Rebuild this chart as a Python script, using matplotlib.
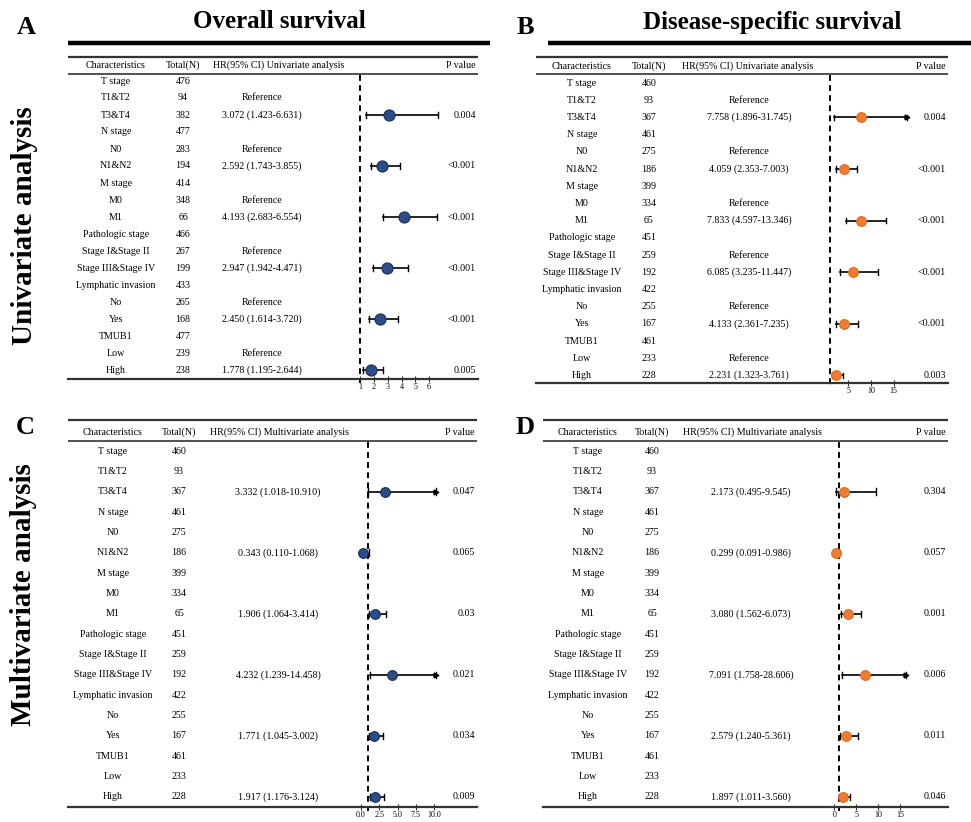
import matplotlib
matplotlib.use("Agg")
import matplotlib.pyplot as plt
from matplotlib.lines import Line2D

plt.rcParams['font.family'] = ['Liberation Serif', 'DejaVu Serif']

W, H = 971, 822

# ---------------- data ----------------
characteristics = ["T stage", "T1&T2", "T3&T4", "N stage", "N0", "N1&N2",
                   "M stage", "M0", "M1", "Pathologic stage", "Stage I&Stage II",
                   "Stage III&Stage IV", "Lymphatic invasion", "No", "Yes",
                   "TMUB1", "Low", "High"]

# rows that carry an estimate, and the reference rows
est_rows = [2, 5, 8, 11, 14, 17]
ref_rows = [1, 4, 7, 10, 13, 16]

total_os_uni = [476, 94, 382, 477, 283, 194, 414, 348, 66, 466, 267, 199, 433, 265, 168, 477, 239, 238]
total_dss_uni = [460, 93, 367, 461, 275, 186, 399, 334, 65, 451, 259, 192, 422, 255, 167, 461, 233, 228]
total_os_multi = [460, 93, 367, 461, 275, 186, 399, 334, 65, 451, 259, 192, 422, 255, 167, 461, 233, 228]
total_dss_multi = [460, 93, 367, 461, 275, 186, 399, 334, 65, 451, 259, 192, 422, 255, 167, 461, 233, 228]

hr_os_uni = [3.072, 2.592, 4.193, 2.947, 2.450, 1.778]
lo_os_uni = [1.423, 1.743, 2.683, 1.942, 1.614, 1.195]
hi_os_uni = [6.631, 3.855, 6.554, 4.471, 3.720, 2.644]
p_os_uni = ["0.004", "<0.001", "<0.001", "<0.001", "<0.001", "0.005"]

hr_dss_uni = [7.758, 4.059, 7.833, 6.085, 4.133, 2.231]
lo_dss_uni = [1.896, 2.353, 4.597, 3.235, 2.361, 1.323]
hi_dss_uni = [31.745, 7.003, 13.346, 11.447, 7.235, 3.761]
p_dss_uni = ["0.004", "<0.001", "<0.001", "<0.001", "<0.001", "0.003"]

hr_os_multi = [3.332, 0.343, 1.906, 4.232, 1.771, 1.917]
lo_os_multi = [1.018, 0.110, 1.064, 1.239, 1.045, 1.176]
hi_os_multi = [10.910, 1.068, 3.414, 14.458, 3.002, 3.124]
p_os_multi = ["0.047", "0.065", "0.03", "0.021", "0.034", "0.009"]

hr_dss_multi = [2.173, 0.299, 3.080, 7.091, 2.579, 1.897]
lo_dss_multi = [0.495, 0.091, 1.562, 1.758, 1.240, 1.011]
hi_dss_multi = [9.545, 0.986, 6.073, 28.606, 5.361, 3.560]
p_dss_multi = ["0.304", "0.057", "0.001", "0.006", "0.011", "0.046"]

ticks_os_uni = [1, 2, 3, 4, 5, 6]
ticks_dss_uni = [5, 10, 15]
ticks_os_multi = [0.0, 2.5, 5.0, 7.5, 10.0]
ticks_dss_multi = [0, 5, 10, 15]

BLUE_FILL, BLUE_EDGE = "#2b4d88", "#1a2f5a"
ORANGE_FILL, ORANGE_EDGE = "#ee7d31", "#e06a1c"

panels = [
    dict(total=total_os_uni, hr=hr_os_uni, lo=lo_os_uni, hi=hi_os_uni, p=p_os_uni,
         ticks=ticks_os_uni, ticklabels=[str(t) for t in ticks_os_uni],
         header="HR(95% CI) Univariate analysis", show_ref=True,
         fill=BLUE_FILL, edge=BLUE_EDGE, clip=None,
         xl=68, xr=478, y_top=57, y_head=65.5, y_hline=74, y0=81, dy=17.0, y_ax=379,
         c_char=116, c_tot=183, c_hr=262, c_hrh=279, p_right=476,
         x1=360.3, k=13.74, ms=8.0),
    dict(total=total_dss_uni, hr=hr_dss_uni, lo=lo_dss_uni, hi=hi_dss_uni, p=p_dss_uni,
         ticks=ticks_dss_uni, ticklabels=[str(t) for t in ticks_dss_uni],
         header="HR(95% CI) Univariate analysis", show_ref=True,
         fill=ORANGE_FILL, edge=ORANGE_EDGE, clip=17.9,
         xl=536, xr=948, y_top=57, y_head=66.5, y_hline=74, y0=83, dy=17.2, y_ax=383,
         c_char=582, c_tot=649, c_hr=749, c_hrh=748, p_right=946,
         x1=830.1, k=4.54, ms=7.0),
    dict(total=total_os_multi, hr=hr_os_multi, lo=lo_os_multi, hi=hi_os_multi, p=p_os_multi,
         ticks=ticks_os_multi, ticklabels=["%.1f" % t for t in ticks_os_multi],
         header="HR(95% CI) Multivariate analysis", show_ref=False,
         fill=BLUE_FILL, edge=BLUE_EDGE, clip=10.3,
         xl=68, xr=477, y_top=420, y_head=432, y_hline=441, y0=451, dy=20.35, y_ax=807,
         c_char=113, c_tot=179, c_hr=278, c_hrh=279, p_right=475,
         x1=368.3, k=7.33, ms=7.0),
    dict(total=total_dss_multi, hr=hr_dss_multi, lo=lo_dss_multi, hi=hi_dss_multi, p=p_dss_multi,
         ticks=ticks_dss_multi, ticklabels=[str(t) for t in ticks_dss_multi],
         header="HR(95% CI) Multivariate analysis", show_ref=False,
         fill=ORANGE_FILL, edge=ORANGE_EDGE, clip=16.4,
         xl=543, xr=948, y_top=420, y_head=432, y_hline=441, y0=451, dy=20.35, y_ax=807,
         c_char=588, c_tot=652, c_hr=751, c_hrh=752, p_right=946,
         x1=838.7, k=4.38, ms=7.0),
]

fig = plt.figure(figsize=(W / 100, H / 100), dpi=100)


def fx(x):
    return x / W


def fy(y):
    return 1 - y / H


FS = 7.2
LINE_COL = "#333333"

for P in panels:
    xl, xr, yt, ya = P["xl"], P["xr"], P["y_top"], P["y_ax"]
    rect = [fx(xl), fy(ya), (xr - xl) / W, (ya - yt) / H]

    def row_y(py, P=P):
        return (py - P["y0"]) / P["dy"]

    ylim = (row_y(ya), row_y(yt))

    # table text layer
    tab = fig.add_axes(rect)
    tab.set_xlim(xl, xr)
    tab.set_ylim(*ylim)
    tab.axis("off")
    tab.plot([xl, xr], [ylim[1], ylim[1]], color=LINE_COL, lw=1.6, clip_on=False,
             solid_capstyle="butt")
    tab.plot([xl, xr], [row_y(P["y_hline"])] * 2, color=LINE_COL, lw=1.2, clip_on=False,
             solid_capstyle="butt")
    hy = row_y(P["y_head"])
    tab.text(P["c_char"], hy, "Characteristics", ha="center", va="center", fontsize=FS)
    tab.text(P["c_tot"], hy, "Total(N)", ha="center", va="center", fontsize=FS)
    tab.text(P["c_hrh"], hy, P["header"], ha="center", va="center", fontsize=FS)
    tab.text(P["p_right"], hy, "P value", ha="right", va="center", fontsize=FS)

    for i, (name, n) in enumerate(zip(characteristics, P["total"])):
        tab.text(P["c_char"], i, name, ha="center", va="center", fontsize=FS)
        tab.text(P["c_tot"], i, str(n), ha="center", va="center", fontsize=FS)
    if P["show_ref"]:
        for r in ref_rows:
            tab.text(P["c_hr"], r, "Reference", ha="center", va="center", fontsize=FS)
    for j, r in enumerate(est_rows):
        tab.text(P["c_hr"], r, "%.3f (%.3f-%.3f)" % (P["hr"][j], P["lo"][j], P["hi"][j]),
                 ha="center", va="center", fontsize=FS)
        tab.text(P["p_right"], r, P["p"][j], ha="right", va="center", fontsize=FS)

    # forest layer
    fo = fig.add_axes(rect, zorder=3)
    fo.patch.set_alpha(0)
    x_lo = 1 - (P["x1"] - xl) / P["k"]
    x_hi = 1 + (xr - P["x1"]) / P["k"]
    fo.set_xlim(x_lo, x_hi)
    fo.set_ylim(*ylim)
    for s in ["top", "left", "right"]:
        fo.spines[s].set_visible(False)
    fo.spines["bottom"].set_color(LINE_COL)
    fo.spines["bottom"].set_linewidth(1.6)
    fo.set_yticks([])
    fo.set_xticks(P["ticks"])
    fo.set_xticklabels(P["ticklabels"], fontsize=5.8)
    fo.tick_params(axis="x", direction="inout", length=5, width=0.8, pad=0.5,
                   color=LINE_COL)

    fo.plot([1, 1], [row_y(P["y_hline"] + 1), row_y(ya + 4)], color="black", lw=1.4,
            ls=(0, (3, 2.2)), clip_on=False)

    cap = 0.16
    for j, r in enumerate(est_rows):
        lo, hi, hr = P["lo"][j], P["hi"][j], P["hr"][j]
        clipped = P["clip"] is not None and hi > P["clip"]
        end = P["clip"] if clipped else hi
        fo.plot([lo, end], [r, r], color="black", lw=1.2, zorder=4)
        fo.plot([lo, lo], [r - cap, r + cap], color="black", lw=1.0, zorder=4)
        fo.plot([end, end], [r - cap, r + cap], color="black", lw=1.0, zorder=4)
        if clipped:
            fo.plot([end], [r], marker=">", ms=3.5, color="black", zorder=4)
        fo.plot([hr], [r], marker="o", ms=P["ms"], mfc=P["fill"], mec=P["edge"],
                mew=0.8, zorder=5, clip_on=False)

# titles, thick rules, panel letters and row labels
fig.text(fx(279), fy(22), "Overall survival", ha="center", va="center",
         fontsize=18, fontweight="bold")
fig.text(fx(772), fy(22), "Disease-specific survival", ha="center", va="center",
         fontsize=18, fontweight="bold")
fig.add_artist(Line2D([fx(68), fx(490)], [fy(43), fy(43)], color="black", lw=3.2,
                      solid_capstyle="butt"))
fig.add_artist(Line2D([fx(548), fx(971)], [fy(43), fy(43)], color="black", lw=3.2,
                      solid_capstyle="butt"))
for letter, x, y in [("A", 26, 27), ("B", 525, 27), ("C", 25, 427), ("D", 525, 427)]:
    fig.text(fx(x), fy(y), letter, ha="center", va="center", fontsize=19,
             fontweight="bold")
fig.text(fx(24), fy(226), "Univariate analysis", rotation=90, ha="center", va="center",
         fontsize=21, fontweight="bold")
fig.text(fx(24), fy(595), "Multivariate analysis", rotation=90, ha="center",
         va="center", fontsize=21, fontweight="bold")

fig.savefig("out.png", dpi=100)
